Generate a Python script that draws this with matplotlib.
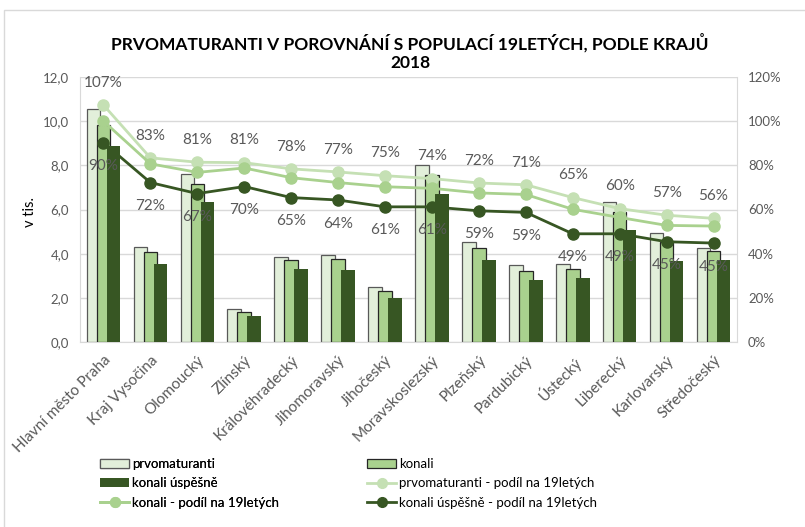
import numpy as np
import matplotlib as mpl
mpl.use('Agg')
from matplotlib import pyplot as plt
from matplotlib.ticker import FuncFormatter, MultipleLocator
from matplotlib.lines import Line2D
from matplotlib.patches import Patch, Rectangle

plt.rcParams['font.family'] = ['Lato', 'DejaVu Sans']

kraje = ['Hlavní město Praha', 'Kraj Vysočina', 'Olomoucký', 'Zlínský',
         'Královéhradecký', 'Jihomoravský', 'Jihočeský', 'Moravskoslezský',
         'Plzeňský', 'Pardubický', 'Ústecký', 'Liberecký', 'Karlovarský',
         'Středočeský']
# v tisících
prvomaturanti = [10.55, 4.29, 7.62, 1.50, 3.87, 3.93, 2.47, 8.03, 4.54, 3.47, 3.52, 6.33, 4.93, 4.25]
konali = [9.83, 4.07, 7.15, 1.38, 3.70, 3.75, 2.29, 7.54, 4.25, 3.22, 3.29, 5.89, 4.52, 4.14]
uspesne = [8.88, 3.52, 6.36, 1.18, 3.31, 3.26, 1.99, 6.68, 3.70, 2.82, 2.91, 5.07, 3.67, 3.70]
# podíl na 19letých v %
podil_prvo = [107.3, 83.4, 81.4, 81.2, 78.4, 77.0, 75.3, 74.0, 72.0, 71.2, 65.4, 60.4, 57.4, 56.0]
podil_konali = [100.0, 80.7, 76.8, 78.8, 74.4, 72.2, 70.3, 69.6, 67.5, 66.8, 60.1, 56.4, 52.8, 52.5]
podil_uspesne = [90.3, 72.2, 67.2, 70.4, 65.4, 64.3, 61.2, 61.2, 59.4, 58.7, 49.0, 49.0, 45.4, 44.8]

c_prvo = '#e2efda'
c_konali = '#a9d18e'
c_uspesne = '#375623'
c_prvo_line = '#c5e0b4'
grey = '#595959'
grid = '#d9d9d9'

W, H = 805, 527
fig = plt.figure(figsize=(W / 100, H / 100), dpi=100)
ax = fig.add_axes([80 / W, 1 - 342 / H, (737 - 80) / W, (342 - 77) / H])

x = np.arange(len(kraje))
bw = 0.29
off = 0.213
ax.bar(x - off, prvomaturanti, bw, color=c_prvo, edgecolor='#595959', linewidth=0.9, zorder=2)
ax.bar(x, konali, bw, color=c_konali, edgecolor='#262626', linewidth=0.9, zorder=3)
ax.bar(x + off, uspesne, bw, color=c_uspesne, linewidth=0, zorder=4)

ax.set_xlim(-0.5, len(kraje) - 0.5)
ax.set_ylim(0, 12)
ax.yaxis.set_major_locator(MultipleLocator(2))
ax.yaxis.set_major_formatter(FuncFormatter(lambda v, p: f'{v:.1f}'.replace('.', ',')))
ax.grid(axis='y', color=grid, linewidth=1)
ax.set_axisbelow(True)
ax.set_xticks(x)
ax.set_xticklabels(kraje, rotation=45, ha='right', va='top', rotation_mode='anchor')
ax.tick_params(axis='both', length=0, colors=grey, labelsize=9.5)
ax.tick_params(axis='x', pad=8, labelsize=11)
ax.tick_params(axis='y', pad=8)
for s in ['left', 'right', 'bottom']:
    ax.spines[s].set_color(grid)
ax.spines['top'].set_visible(False)

ax2 = ax.twinx()
ax2.set_ylim(0, 120)
ax2.yaxis.set_major_locator(MultipleLocator(20))
ax2.yaxis.set_major_formatter(FuncFormatter(lambda v, p: f'{v:.0f}%'))
ax2.tick_params(axis='y', length=0, colors=grey, labelsize=9.5, pad=8)
for s in ax2.spines.values():
    s.set_visible(False)

ax2.plot(x, podil_prvo, color=c_prvo_line, lw=2, marker='o', ms=8, zorder=5)
ax2.plot(x, podil_konali, color=c_konali, lw=2, marker='o', ms=8, zorder=6)
ax2.plot(x, podil_uspesne, color=c_uspesne, lw=2, marker='o', ms=8, zorder=7)

for xi, v in zip(x, podil_prvo):
    ax2.annotate(f'{v:.0f}%', (xi, v), xytext=(0, 16), textcoords='offset points',
                 ha='center', va='center', fontsize=11, color=grey, zorder=8)
for xi, v in zip(x, podil_uspesne):
    ax2.annotate(f'{v:.0f}%', (xi, v), xytext=(0, -17), textcoords='offset points',
                 ha='center', va='center', fontsize=11, color=grey, zorder=8)

fig.text(410 / W, 1 - 52 / H, 'PRVOMATURANTI V POROVNÁNÍ S POPULACÍ 19LETÝCH, PODLE KRAJŮ\n2018',
         ha='center', va='center', fontsize=12.5, fontweight='bold', linespacing=1.2)
fig.text(30 / W, 1 - 212 / H, 'v tis.', rotation=90, ha='center', va='center',
         fontsize=10.5, color='black')

# legenda ve dvou sloupcích
h_prvo = Patch(facecolor=c_prvo, edgecolor='#595959', linewidth=0.9)
h_konali = Patch(facecolor=c_konali, edgecolor='#262626', linewidth=0.9)
h_usp = Patch(facecolor=c_uspesne, linewidth=0)
l_prvo = Line2D([], [], color=c_prvo_line, lw=2, marker='o', ms=7)
l_konali = Line2D([], [], color=c_konali, lw=2, marker='o', ms=7)
l_usp = Line2D([], [], color=c_uspesne, lw=2, marker='o', ms=7)

kw = dict(loc='upper left', frameon=False, fontsize=9.5, handlelength=2.2,
          handleheight=0.6, handletextpad=0.2, labelspacing=0.55,
          borderpad=0, borderaxespad=0, labelcolor='black')
leg1 = fig.legend([h_prvo, h_usp, l_konali],
                  ['prvomaturanti', 'konali úspěšně', 'konali - podíl na 19letých'],
                  bbox_to_anchor=(100 / W, 1 - 458 / H), **kw)
fig.add_artist(leg1)
fig.legend([h_konali, l_prvo, l_usp],
           ['konali', 'prvomaturanti - podíl na 19letých', 'konali úspěšně - podíl na 19letých'],
           bbox_to_anchor=(367 / W, 1 - 458 / H), **kw)

fig.add_artist(Rectangle((4 / W, -0.05), 1.1, 1 - 10 / H + 0.05, transform=fig.transFigure,
                         fill=False, edgecolor=grid, linewidth=1))

fig.savefig('out.png', dpi=100)
